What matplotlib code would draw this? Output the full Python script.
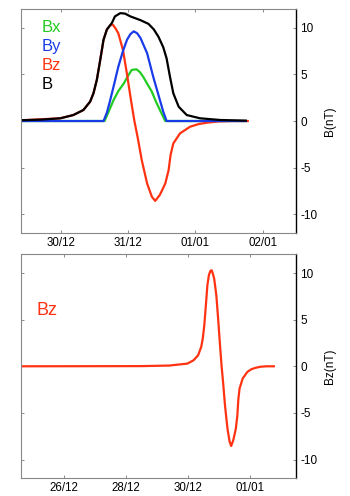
import matplotlib
matplotlib.use('Agg')
import matplotlib.pyplot as plt

plt.rcParams['font.family'] = ['Liberation Sans', 'DejaVu Sans']
plt.rcParams['axes.unicode_minus'] = False

# time in days after 30/12 00:00, field in nT
t_b = [-0.6, -0.3, -0.015, 0.18, 0.33, 0.43, 0.48, 0.53, 0.58, 0.63, 0.68, 0.755,
       0.80, 0.88, 0.95, 1.03, 1.18, 1.30, 1.38, 1.45, 1.52, 1.57, 1.62, 1.67,
       1.75, 1.87, 2.07, 2.37, 2.75]
b_tot = [0.08, 0.15, 0.29, 0.64, 1.18, 2.07, 2.97, 4.4, 6.5, 8.7, 9.8, 10.5,
         11.2, 11.55, 11.5, 11.2, 10.8, 10.4, 9.8, 9.0, 7.9, 6.7, 4.75, 2.97,
         1.53, 0.64, 0.29, 0.11, 0.04]

t_by = [-0.6, 0.63, 0.68, 0.73, 0.79, 0.85, 0.92, 0.98, 1.03, 1.08, 1.13, 1.18,
        1.28, 1.37, 1.47, 1.52, 1.57, 2.75]
b_y = [0, 0, 0.9, 2.25, 4.0, 5.8, 7.5, 8.7, 9.3, 9.6, 9.4, 8.9,
       7.25, 4.75, 2.25, 1.0, 0, 0]

t_bx = [-0.6, 0.645, 0.70, 0.78, 0.85, 0.93, 1.0, 1.05, 1.12, 1.17, 1.22, 1.28,
        1.35, 1.41, 1.47, 1.55, 2.75]
b_x = [0, 0, 0.9, 2.25, 3.2, 4.0, 4.9, 5.47, 5.54, 5.25, 4.75, 4.0,
       3.14, 2.1, 1.18, 0, 0]

t_bz = [-5.4, -1.5, -0.6, -0.015, 0.18, 0.33, 0.43, 0.48, 0.53, 0.58, 0.63, 0.68,
        0.73, 0.77, 0.81, 0.85, 0.92, 0.98, 1.04, 1.09, 1.14, 1.20, 1.28, 1.35,
        1.40, 1.47, 1.55, 1.60, 1.63, 1.67, 1.77, 1.92, 2.05, 2.17, 2.34, 2.55, 2.78]
b_z = [0, 0.02, 0.08, 0.29, 0.64, 1.18, 2.07, 2.97, 4.4, 6.5, 8.7, 9.8,
       10.25, 10.3, 9.9, 9.4, 7.6, 5.0, 2.2, 0, -1.8, -4.2, -6.7, -8.1,
       -8.55, -7.9, -6.7, -5.25, -3.6, -2.4, -1.32, -0.61, -0.32, -0.18, -0.05, 0, 0]

top_ticks = [0, 1, 2, 3]
top_labels = ['30/12', '31/12', '01/01', '02/01']
bot_ticks = [-4, -2, 0, 2]
bot_labels = ['26/12', '28/12', '30/12', '01/01']
y_ticks = [-10, -5, 0, 5, 10]

c_x, c_y, c_z, c_b = '#22cc22', '#1a3ce8', '#ff3312', 'black'

fig = plt.figure(figsize=(3.5, 4.96), dpi=100)
ax1 = fig.add_axes([0.06, 0.530, 0.786, 0.452])
ax2 = fig.add_axes([0.06, 0.036, 0.786, 0.451])


def style(ax, ticks, labels, xlim, ylabel):
    ax.set_xlim(*xlim)
    ax.set_ylim(-12, 12)
    ax.set_xticks(ticks)
    ax.set_xticklabels(labels)
    ax.set_yticks(y_ticks)
    ax.yaxis.tick_right()
    ax.yaxis.set_label_position('right')
    ax.tick_params(direction='in', length=2.5, width=0.6, color='#777777',
                   labelsize=8.5, top=True, bottom=True, left=True, right=True, pad=3)
    ax.tick_params(axis='x', labelsize=8.3, pad=3)
    ax.set_ylabel(ylabel, fontsize=8.5, labelpad=5)
    for s in ['left', 'top', 'bottom']:
        ax.spines[s].set_color('#888888')
        ax.spines[s].set_linewidth(0.8)
    ax.spines['right'].set_color('black')
    ax.spines['right'].set_linewidth(1.0)


lw = 1.6
ax1.plot(t_bx, b_x, color=c_x, lw=lw)
ax1.plot(t_bz, b_z, color=c_z, lw=lw)
ax1.plot(t_by, b_y, color=c_y, lw=lw)
ax1.plot(t_b, b_tot, color=c_b, lw=lw)
style(ax1, top_ticks, top_labels, (-0.6, 3.5), 'B(nT)')

for i, (name, col) in enumerate([('Bx', c_x), ('By', c_y), ('Bz', c_z), ('B', c_b)]):
    ax1.text(0.075, 0.915 - i * 0.0835, name, color=col, fontsize=12,
             transform=ax1.transAxes, va='center', ha='left')

ax2.plot(t_bz, b_z, color=c_z, lw=lw)
style(ax2, bot_ticks, bot_labels, (-5.4, 3.5), 'Bz(nT)')
ax2.text(0.055, 0.75, 'Bz', color=c_z, fontsize=13, transform=ax2.transAxes,
         va='center', ha='left')

fig.savefig('out.png', dpi=100)
